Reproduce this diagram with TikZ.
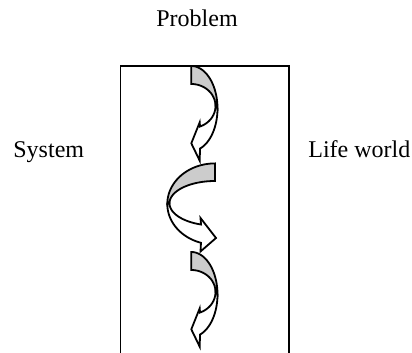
\documentclass[tikz,border=0pt]{standalone}
\usepackage{fontspec}
\setmainfont{Liberation Serif}
\definecolor{ribbongray}{RGB}{204,204,204}
\tikzset{
  frame/.style={line width=0.8pt},
  backside/.style={fill=ribbongray, draw=black, line width=0.9pt},
  frontside/.style={fill=white, draw=black, line width=0.9pt},
  lbl/.style={font=\fontsize{12}{14}\selectfont, inner sep=0pt},
  ribbondown/.pic={
    \draw[backside] (191.3,66) -- plot[domain=-90:0, samples=40] ({191.3+26.2*cos(\x)},{108.5+42.5*sin(\x)})
      -- plot[domain=0:-90, samples=40] ({191.3+24.2*cos(\x)},{106+22*sin(\x)}) -- cycle;
    \draw[frontside] plot[domain=0:70.6, samples=40] ({191.3+26.2*cos(\x)},{108.5+42.5*sin(\x)})
      -- (199.7,160.7) -- (191.3,143.3) -- (199.7,122.3)
      -- plot[domain=68.9:0, samples=40] ({191.3+24.2*cos(\x)},{106+22*sin(\x)}) -- cycle;
  }
}
\begin{document}
\begin{tikzpicture}[x=0.5pt,y=-0.5pt]
\useasboundingbox (0,0) rectangle (412,353);
% text labels
\node[lbl, anchor=base] (problem) at (197,27) {Problem};
\node[lbl, anchor=base west] (system) at (13,157) {System};
\node[lbl, anchor=base west] (lifeworld) at (308,157) {Life world};
% curved ribbon arrows
\pic at (0,0) {ribbondown};
\draw[backside] plot[domain=-90:-180, samples=40] ({215+47.7*cos(\x)},{204+40.6*sin(\x)})
  -- plot[domain=180:270, samples=40] ({215+45.5*cos(\x)},{203.3+22.3*sin(\x)}) -- cycle;
\draw[frontside] plot[domain=180:107.1, samples=40] ({215+47.7*cos(\x)},{204+40.6*sin(\x)})
  -- (200.5,251.5) -- (216,238) -- (200.5,218)
  -- plot[domain=107.9:180, samples=40] ({215+45.5*cos(\x)},{203.3+22.3*sin(\x)}) -- cycle;
\pic at (0,186) {ribbondown};
% open frame
\coordinate (fbl) at (120.5,353);
\coordinate (ftl) at (120.5,66);
\coordinate (ftr) at (288.7,66);
\coordinate (fbr) at (288.7,353);
\draw[frame] (fbl) -- (ftl) -- (ftr) -- (fbr);
\end{tikzpicture}
\end{document}
